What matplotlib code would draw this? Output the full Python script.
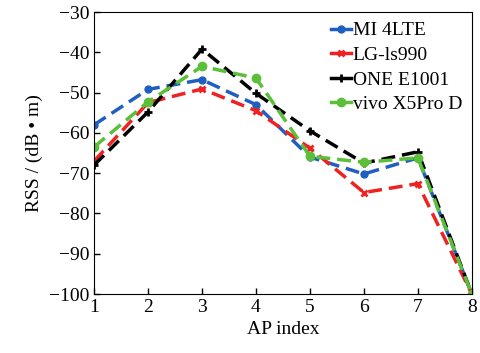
import matplotlib.pyplot as plt
from matplotlib.legend_handler import HandlerLine2D

plt.rcParams['font.family'] = ['Liberation Serif', 'DejaVu Serif']

ap_index = [1, 2, 3, 4, 5, 6, 7, 8]
mi_4lte = [-58.0, -49.2, -46.8, -53.0, -66.0, -70.2, -66.2, -100.0]
lg_ls990 = [-67.0, -52.5, -49.1, -54.5, -63.8, -74.8, -72.6, -100.0]
one_e1001 = [-68.0, -54.8, -39.2, -50.2, -59.5, -67.5, -64.7, -100.0]
vivo_x5pro = [-63.5, -52.3, -43.5, -46.4, -65.8, -67.3, -66.2, -100.0]

fig, ax = plt.subplots(figsize=(4.8, 3.53), dpi=100)

ax.plot(ap_index, mi_4lte, color='#1f5fbf', lw=2.5, marker='o', ms=5,
        dashes=(4, 2), label='MI 4LTE')
ax.plot(ap_index, lg_ls990, color='#ee2222', lw=2.5, marker='x', ms=5,
        mew=2, dashes=(4, 2), label='LG-ls990')
ax.plot(ap_index, one_e1001, color='black', lw=2.5, marker='+', ms=6,
        mew=2, dashes=(4, 2), label='ONE E1001')
ax.plot(ap_index, vivo_x5pro, color='#5bbf3a', lw=2.5, marker='o', ms=6,
        dashes=(4, 2), label='vivo X5Pro D')

ax.set_xlim(1, 8)
ax.set_ylim(-100, -30)
ax.set_xticks(ap_index)
ax.set_yticks(range(-100, -29, 10))
ax.tick_params(direction='in', labelsize=14, length=4, width=1)
ax.set_xlabel('AP index', fontsize=14)
ax.set_ylabel('RSS / (dB • m)', fontsize=14)


class EndMarker(HandlerLine2D):
    def get_xdata(self, legend, xdescent, ydescent, width, height, fontsize):
        xs = [-xdescent, width - xdescent]
        return xs, [width - xdescent]


ax.legend(loc='upper right', frameon=False, fontsize=14, handlelength=1.0,
          handletextpad=0.1, labelspacing=0.36, borderaxespad=0.1,
          handler_map={plt.Line2D: EndMarker()})
for line in ax.get_legend().get_lines():
    line.set_linestyle('-')

fig.subplots_adjust(left=0.196, right=0.983, top=0.966, bottom=0.167)
fig.savefig('out.png')
